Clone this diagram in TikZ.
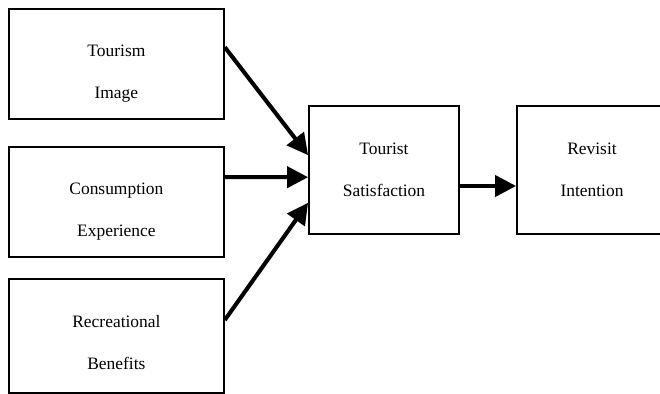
\documentclass[tikz,border=0pt]{standalone}
\usepackage{fontspec}
\setmainfont{Liberation Serif}
\usetikzlibrary{arrows.meta,positioning}
\begin{document}
\begin{tikzpicture}[
  box/.style={draw,line width=1.3pt,minimum width=5.375cm,minimum height=2.75cm,inner sep=0pt},
  midbox/.style={draw,line width=1.3pt,minimum width=3.75cm,minimum height=3.2cm,inner sep=0pt},
  lbl/.style={align=center,font=\fontsize{12.4}{29.9}\selectfont},
  link/.style={line width=2.9pt,-{Triangle[length=15pt,width=15pt]}}]
\useasboundingbox (0,0) rectangle (16.5,-9.85);
\begin{scope}
\clip (0,0) rectangle (16.5,-9.85);
\node[box] (img) at (2.91,-1.59) {};
\node[box] (exp) at (2.91,-5.05) {};
\node[box,minimum height=2.85cm] (ben) at (2.91,-8.39) {};
\node[midbox] (sat) at (9.6,-4.25) {};
\node[midbox] (rev) at (14.8,-4.25) {};
\end{scope}
\node[lbl] (img-t) at ([yshift=-0.25cm]img.center) {Tourism\\Image};
\node[lbl] (exp-t) at ([yshift=-0.25cm]exp.center) {Consumption\\Experience};
\node[lbl] (ben-t) at ([yshift=-0.17cm]ben.center) {Recreational\\Benefits};
\node[lbl] (sat-t) at (sat.center) {Tourist\\Satisfaction};
\node[lbl] (rev-t) at (rev.center) {Revisit\\Intention};
\draw[link] ([yshift=0.41cm]img.east) -- ([yshift=0.37cm]sat.west);
\draw[link] ([yshift=0.62cm]exp.east) -- ([yshift=-0.18cm]sat.west);
\draw[link] ([yshift=0.39cm]ben.east) -- ([yshift=-0.82cm]sat.west);
\draw[link] ([yshift=-0.4cm]sat.east) -- ([yshift=-0.4cm]rev.west);
\end{tikzpicture}
\end{document}
